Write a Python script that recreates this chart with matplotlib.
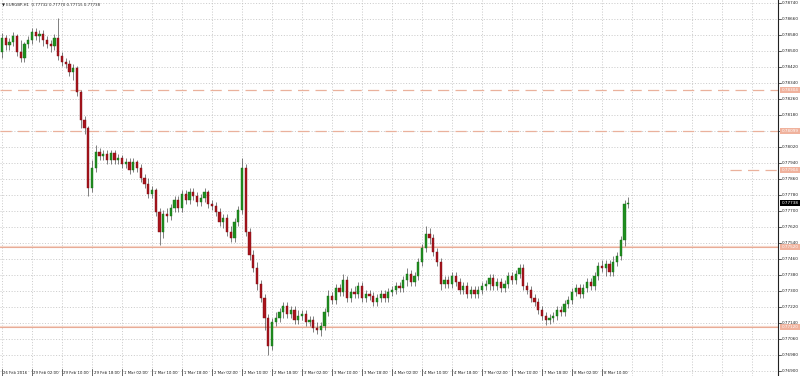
import numpy as np
import matplotlib
matplotlib.use("Agg")
import matplotlib.pyplot as plt
from matplotlib.transforms import blended_transform_factory

# EURGBP H1 prices in points (1e-5)
open_pts = [
    78494, 78564, 78529, 78544, 78574, 78494, 78464, 78534, 78554, 78594,
    78574, 78584, 78554, 78534, 78524, 78564, 78474, 78444, 78434, 78394,
    78414, 78294, 78154, 78114, 77814, 77914, 77994, 77974, 77984, 77954,
    77989, 77954, 77964, 77934, 77944, 77904, 77944, 77914, 77864, 77834,
    77784, 77804, 77694, 77594, 77684, 77674, 77714, 77754, 77714, 77784,
    77754, 77794, 77774, 77744, 77764, 77794, 77734, 77724, 77694, 77644,
    77664, 77594, 77564, 77644, 77704, 77914, 77594, 77479, 77414, 77334,
    77264, 77164, 77024, 77144, 77164, 77194, 77224, 77184, 77204, 77154,
    77174, 77184, 77144, 77154, 77114, 77104, 77124, 77194, 77274, 77254,
    77314, 77294, 77354, 77264, 77294, 77284, 77324, 77264, 77284, 77274,
    77244, 77264, 77284, 77264, 77294, 77304, 77324, 77314, 77354, 77384,
    77344, 77374, 77444, 77514, 77584, 77564, 77494, 77444, 77334, 77354,
    77334, 77374, 77344, 77304, 77324, 77284, 77304, 77284, 77304, 77324,
    77334, 77364, 77324, 77344, 77314, 77334, 77374, 77354, 77384, 77414,
    77324, 77304, 77264, 77244, 77204, 77174, 77154, 77164, 77174, 77204,
    77194, 77234, 77254, 77294, 77314, 77284, 77314, 77344, 77324, 77374,
    77424, 77414, 77434, 77394, 77444, 77474, 77554, 77732,
]
high_pts = [
    78589, 78579, 78564, 78594, 78584, 78554, 78544, 78574, 78614, 78614,
    78604, 78604, 78574, 78554, 78584, 78664, 78494, 78464, 78454, 78434,
    78424, 78304, 78174, 78124, 77954, 78029, 78014, 78004, 78004, 78004,
    78004, 77984, 77979, 77964, 77964, 77964, 77954, 77934, 77884, 77864,
    77824, 77814, 77714, 77704, 77714, 77734, 77774, 77774, 77804, 77804,
    77814, 77814, 77794, 77784, 77814, 77804, 77754, 77744, 77714, 77684,
    77684, 77624, 77664, 77724, 77964, 77934, 77614, 77504, 77444, 77354,
    77284, 77184, 77164, 77194, 77214, 77244, 77244, 77224, 77224, 77204,
    77204, 77204, 77174, 77174, 77144, 77144, 77214, 77304, 77294, 77334,
    77334, 77384, 77374, 77314, 77324, 77344, 77344, 77304, 77304, 77294,
    77284, 77304, 77304, 77314, 77324, 77344, 77344, 77374, 77414, 77404,
    77394, 77464, 77534, 77624, 77614, 77584, 77514, 77464, 77374, 77374,
    77394, 77394, 77364, 77344, 77344, 77324, 77324, 77324, 77344, 77354,
    77384, 77384, 77364, 77364, 77354, 77394, 77394, 77404, 77434, 77434,
    77344, 77324, 77284, 77264, 77224, 77194, 77184, 77194, 77224, 77224,
    77254, 77274, 77314, 77334, 77334, 77334, 77364, 77364, 77394, 77444,
    77454, 77454, 77454, 77474, 77494, 77574, 77754, 77770,
]
low_pts = [
    78464, 78504, 78504, 78524, 78474, 78444, 78444, 78514, 78534, 78554,
    78544, 78524, 78514, 78494, 78504, 78454, 78424, 78414, 78374, 78354,
    78274, 78114, 78084, 77774, 77794, 77894, 77954, 77954, 77934, 77934,
    77934, 77934, 77914, 77914, 77884, 77894, 77894, 77844, 77814, 77764,
    77764, 77674, 77529, 77564, 77644, 77654, 77694, 77694, 77694, 77734,
    77734, 77754, 77724, 77724, 77744, 77714, 77704, 77674, 77624, 77614,
    77574, 77544, 77544, 77624, 77684, 77574, 77454, 77394, 77304, 77244,
    77104, 76979, 77004, 77124, 77144, 77164, 77164, 77164, 77134, 77134,
    77154, 77124, 77124, 77094, 77084, 77074, 77104, 77174, 77234, 77234,
    77274, 77274, 77244, 77244, 77264, 77264, 77244, 77244, 77254, 77224,
    77224, 77244, 77244, 77244, 77274, 77284, 77294, 77294, 77324, 77324,
    77324, 77354, 77424, 77494, 77534, 77474, 77424, 77304, 77314, 77314,
    77314, 77324, 77284, 77284, 77264, 77264, 77264, 77264, 77284, 77304,
    77304, 77304, 77304, 77294, 77294, 77314, 77334, 77334, 77364, 77304,
    77284, 77244, 77224, 77184, 77154, 77129, 77134, 77144, 77154, 77174,
    77174, 77214, 77234, 77274, 77264, 77264, 77294, 77304, 77304, 77354,
    77394, 77374, 77374, 77374, 77424, 77454, 77524, 77715,
]
close_pts = [
    78564, 78529, 78544, 78574, 78494, 78464, 78534, 78554, 78594, 78574,
    78584, 78554, 78534, 78524, 78564, 78474, 78444, 78434, 78394, 78414,
    78294, 78154, 78114, 77814, 77914, 77994, 77974, 77984, 77954, 77989,
    77954, 77964, 77934, 77944, 77904, 77944, 77914, 77864, 77834, 77784,
    77804, 77694, 77594, 77684, 77674, 77714, 77754, 77714, 77784, 77754,
    77794, 77774, 77744, 77764, 77794, 77734, 77724, 77694, 77644, 77664,
    77594, 77564, 77644, 77704, 77914, 77594, 77479, 77414, 77334, 77264,
    77164, 77024, 77144, 77164, 77194, 77224, 77184, 77204, 77154, 77174,
    77184, 77144, 77154, 77114, 77104, 77124, 77194, 77274, 77254, 77314,
    77294, 77354, 77264, 77294, 77284, 77324, 77264, 77284, 77274, 77244,
    77264, 77284, 77264, 77294, 77304, 77324, 77314, 77354, 77384, 77344,
    77374, 77444, 77514, 77584, 77564, 77494, 77444, 77334, 77354, 77334,
    77374, 77344, 77304, 77324, 77284, 77304, 77284, 77304, 77324, 77334,
    77364, 77324, 77344, 77314, 77334, 77374, 77354, 77384, 77414, 77324,
    77304, 77264, 77244, 77204, 77174, 77154, 77164, 77174, 77204, 77194,
    77234, 77254, 77294, 77314, 77284, 77314, 77344, 77324, 77374, 77424,
    77414, 77434, 77394, 77444, 77474, 77554, 77734, 77738,
]

time_labels = ["26 Feb 2016", "29 Feb 02:00", "29 Feb 10:00", "29 Feb 18:00",
               "1 Mar 02:00", "1 Mar 10:00", "1 Mar 18:00", "2 Mar 02:00",
               "2 Mar 10:00", "2 Mar 18:00", "3 Mar 02:00", "3 Mar 10:00",
               "3 Mar 18:00", "4 Mar 02:00", "4 Mar 10:00", "4 Mar 18:00",
               "7 Mar 02:00", "7 Mar 10:00", "7 Mar 18:00", "8 Mar 02:00",
               "8 Mar 10:00"]
label_every = 8
price_ticks = [0.76900 + 0.0008 * k for k in range(24)]
dashed_levels = [0.78304, 0.78099]
solid_levels = [0.77520, 0.77120]
short_level = 0.77904
title = "EURGBP,H1  0.77732 0.77770 0.77715 0.77738"

o = np.array(open_pts) / 1e5
h = np.array(high_pts) / 1e5
l = np.array(low_pts) / 1e5
c = np.array(close_pts) / 1e5
n = len(c)
x = np.arange(n)

FS_Y = 3.0
FS_X = 2.8
fig = plt.figure(figsize=(8, 3.76), dpi=100)
ax = fig.add_axes([0, 0, 778 / 800, 1])
ax.set_xlim(-0.533, 206.93)
ax.set_ylim(0.76874, 0.78754)
for s in ("top", "left", "bottom"):
    ax.spines[s].set_visible(False)
ax.spines["right"].set_color("#222222")
ax.spines["right"].set_linewidth(0.8)
ax.set_xticks([])
ax.set_yticks([])

grid_kw = dict(color="#b8b8b8", lw=0.5, linestyle=(0, (1.5, 2.5)), zorder=0)
for p in price_ticks:
    ax.axhline(p, **grid_kw)
for xi in range(0, 207, label_every):
    ax.axvline(xi, **grid_kw)

# support / resistance lines
for p in dashed_levels:
    ax.axhline(p, color="#eab19c", lw=0.9, linestyle=(0, (9, 5)), zorder=1)
for p in solid_levels:
    ax.axhline(p, color="#f5d6c9", lw=1.6, zorder=1)
    ax.axhline(p, color="#e6a48e", lw=0.6, zorder=1)
ax.plot([194, 206.93], [short_level, short_level], color="#eab19c", lw=0.9,
        linestyle=(0, (9, 5)), zorder=1)

# candles
up = c >= o
ax.vlines(x, l, h, color="#3a3a3a", lw=0.45, zorder=2)
body_lo = np.minimum(o, c)
body_h = np.maximum(np.abs(c - o), 0.000012)
ax.bar(x[up], body_h[up], bottom=body_lo[up], width=0.62, color="#1f8f1f",
       edgecolor="#166b16", linewidth=0.3, zorder=3)
ax.bar(x[~up], body_h[~up], bottom=body_lo[~up], width=0.62, color="#a8141c",
       edgecolor="#7a0e14", linewidth=0.3, zorder=3)

# right price axis
bt = blended_transform_factory(ax.transAxes, ax.transData)
for p in price_ticks:
    ax.plot([1.0, 1.004], [p, p], transform=bt, color="#222222", lw=0.5,
            clip_on=False)
    ax.text(1.0045, p, f"{p:.5f}", transform=bt, fontsize=FS_Y, va="center",
            ha="left", color="#222222", clip_on=False)
for p in dashed_levels + solid_levels + [short_level]:
    ax.text(1.0045, p, f"{p:.5f}", transform=bt, fontsize=FS_Y, va="center",
            ha="left", color="white", clip_on=False,
            bbox=dict(boxstyle="square,pad=0.3", fc="#f0b29d", ec="none"))
ax.text(1.0045, c[-1], f"{c[-1]:.5f}", transform=bt, fontsize=FS_Y,
        va="center", ha="left", color="white", clip_on=False,
        bbox=dict(boxstyle="square,pad=0.3", fc="#000000", ec="none"))

# time axis
tb = blended_transform_factory(ax.transData, ax.transAxes)
for k, lab in enumerate(time_labels):
    xi = k * label_every
    ax.plot([xi, xi], [0.0, 0.018], transform=tb, color="#333333", lw=0.5)
    ax.text(xi + 0.4, 0.003, lab, transform=tb, fontsize=FS_X, va="bottom",
            ha="left", color="#222222")

ax.text(0.002, 0.993, "\u25bc " + title, transform=ax.transAxes, fontsize=FS_X,
        va="top", ha="left", color="#222222")

fig.savefig("out.png", dpi=100)
